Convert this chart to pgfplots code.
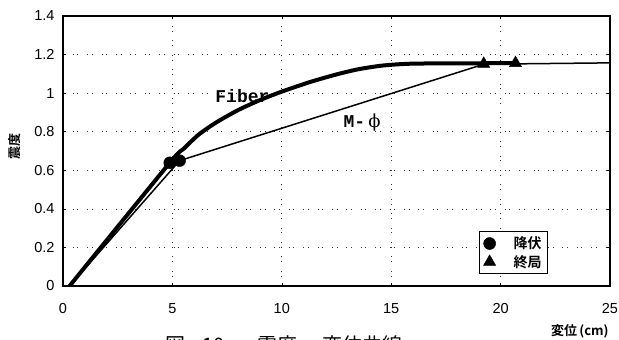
\documentclass[border=0pt]{standalone}
\usepackage{pgfplots}
\pgfplotsset{compat=1.18}
\usepackage{fontspec}
\setmainfont{Liberation Sans}
\newfontfamily\jp{Noto Sans CJK JP}
\newfontfamily\jpb{Noto Sans CJK JP Bold}
\newfontfamily\mono{Liberation Mono}
\newfontfamily\dvs{DejaVu Serif}
\begin{document}
\begin{tikzpicture}[x=1pt,y=1pt]
\useasboundingbox (0,0) rectangle (619,340);
\begin{axis}[
  at={(63pt,54pt)}, anchor=south west,
  scale only axis, width=547pt, height=270pt,
  xmin=0, xmax=25, ymin=0, ymax=1.4,
  xtick={0,5,10,15,20,25}, xticklabels={0,5,10,15,20,25},
  ytick={0,0.2,0.4,0.6,0.8,1,1.2,1.4},
  yticklabels={0,0.2,0.4,0.6,0.8,1,1.2,1.4},
  tick label style={font=\fontsize{14.5}{16}\selectfont},
  xticklabel style={yshift=-14pt},
  yticklabel style={xshift=-5pt},
  axis line style={line width=1.3pt},
  tick style={black, line width=0.6pt},
  major tick length=3pt,
  grid=major,
  grid style={black!80, line width=0.7pt, dash pattern=on 0.7pt off 9pt on 0.7pt off 4pt},
  xlabel={\jpb\fontsize{13}{15}\selectfont 変位\,(cm)},
  xlabel style={at={(axis description cs:0.945,-0.167)}, anchor=center},
  ylabel={\jpb\fontsize{13}{15}\selectfont 震度},
  ylabel style={at={(axis description cs:-0.088,0.515)}, anchor=center, rotate=0},
  legend style={at={(0.887,0.044)}, anchor=south east, draw=black, line width=1pt,
    font=\jpb\fontsize{14}{16}\selectfont, row sep=1pt, inner xsep=4pt, inner ysep=3pt,
    legend cell align=left},
  legend image code/.code={\draw[#1, line width=0.5pt] plot coordinates {(0.3cm,0cm)};},
]
\addlegendimage{only marks, mark=*, mark size=6pt, black}
\addlegendentry{\hspace{16pt}降伏}
\addlegendimage{only marks, mark=triangle*, mark size=7pt, black}
\addlegendentry{\hspace{16pt}終局}
% M-phi
\addplot[black, line width=1.5pt, forget plot] coordinates {
 (0.3,0) (5.33,0.650) (19.23,1.150) (25,1.157)};
% Fiber
\addplot[black, line width=4pt, smooth, tension=0.4, forget plot] coordinates {
 (0.3,0) (4.88,0.639) (5.5,0.71) (6.2,0.785) (7,0.848) (8,0.912) (9,0.964)
 (10,1.008) (11.3,1.058) (12.5,1.097) (13.5,1.124) (14.6,1.143) (16,1.153)
 (19.23,1.155) (20.68,1.156)};
% yield points
\addplot[only marks, mark=*, mark size=6pt, black, forget plot] coordinates {
 (4.88,0.639) (5.33,0.650)};
% ultimate points
\addplot[only marks, mark=triangle*, mark size=7pt, black, forget plot] coordinates {
 (19.23,1.152) (20.68,1.156)};
\node[font=\mono\bfseries\fontsize{18}{20}\selectfont] at (axis cs:8.2,0.985) {Fiber};
\node[font=\mono\bfseries\fontsize{18}{20}\selectfont] at (axis cs:13.67,0.85) {M-\,{\dvs\mdseries ϕ}};
\end{axis}
\node[anchor=base west, inner sep=0pt, font=\jp\fontsize{20}{22}\selectfont] at (165,-13) {図\hspace{10pt}-10\hspace{33pt}震度\hspace{5pt}－変位曲線};
\end{tikzpicture}
\end{document}
